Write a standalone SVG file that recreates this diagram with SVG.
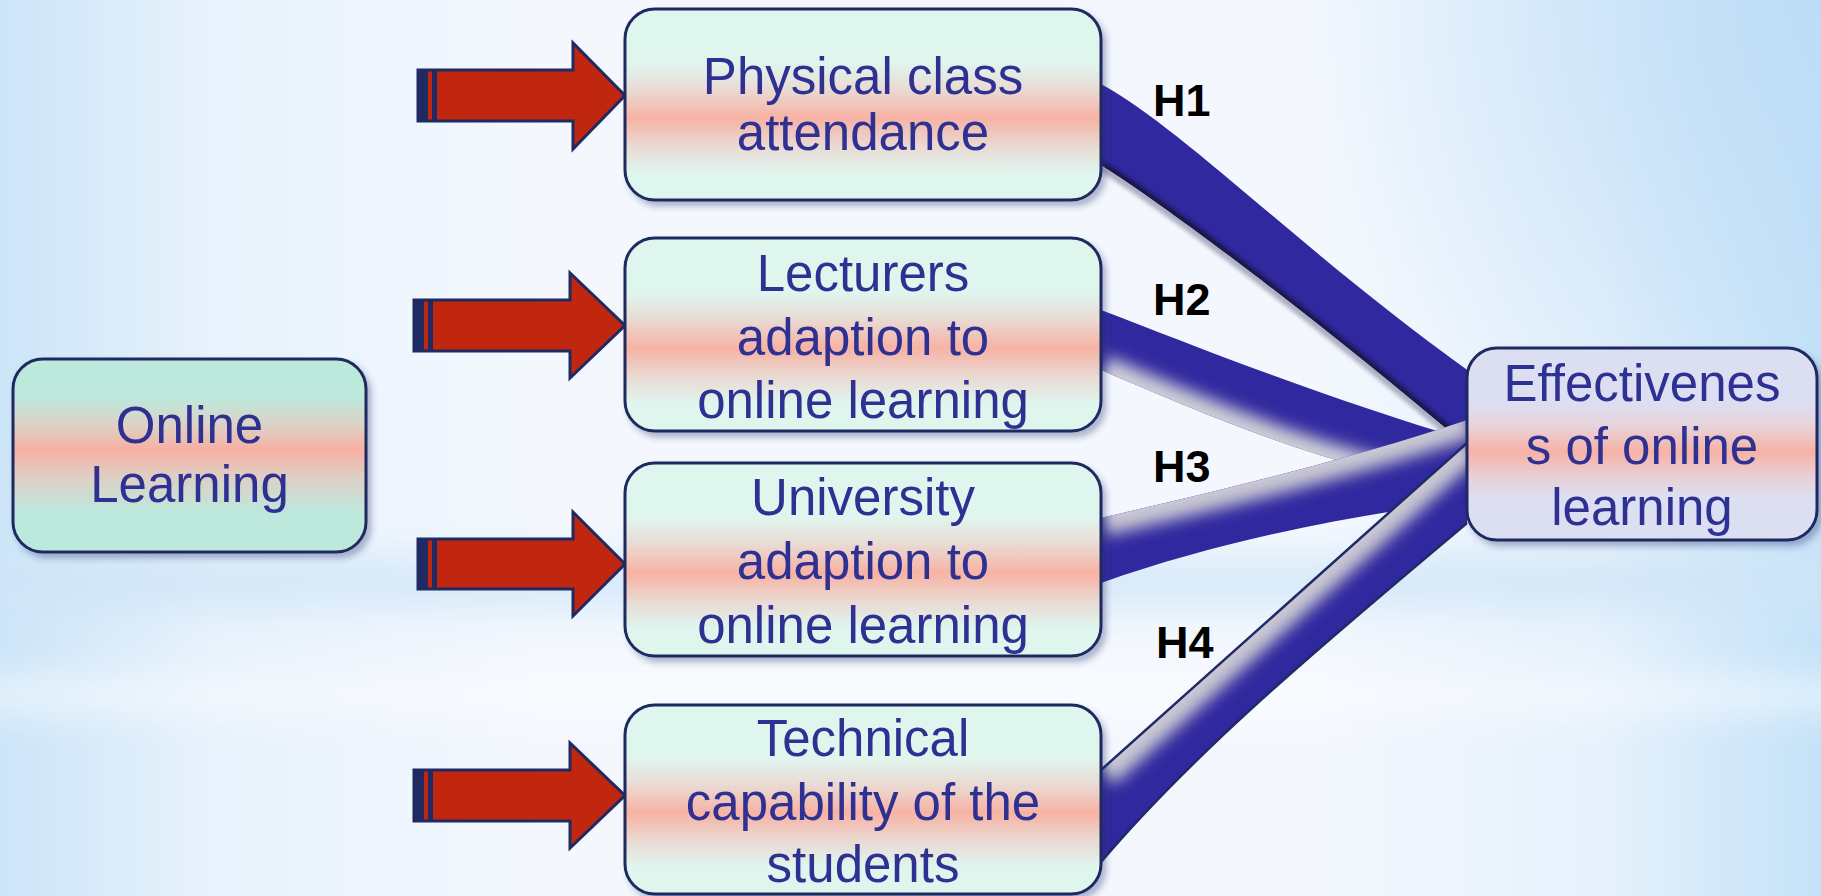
<svg xmlns="http://www.w3.org/2000/svg" width="1821" height="896" viewBox="0 0 1821 896">
<defs>
<style>
.box{stroke:#1f2a60;stroke-width:3;filter:url(#shadow)}
.txt{font-family:"Liberation Sans",Arial,sans-serif;font-size:51px;fill:#2e3192;text-anchor:middle}
.hl{font-family:"Liberation Sans",Arial,sans-serif;font-size:45px;font-weight:bold;fill:#000}
.arrow{fill:#c1260f;stroke:#1f2a62;stroke-width:3;stroke-linejoin:miter}
.bar{fill:#1f2a62}
.rib{fill:#30289e}
</style>
<linearGradient id="bgH" x1="0" y1="0" x2="1" y2="0">
<stop offset="0" stop-color="#cde5f8"/>
<stop offset="0.12" stop-color="#e8f2fc"/>
<stop offset="0.3" stop-color="#f4f8fe"/>
<stop offset="0.72" stop-color="#f4f8fe"/>
<stop offset="0.88" stop-color="#e6f1fc"/>
<stop offset="1" stop-color="#c4e2f8"/>
</linearGradient>
<radialGradient id="bgTR" cx="1821" cy="0" r="520" gradientUnits="userSpaceOnUse">
<stop offset="0" stop-color="#bcdcf6" stop-opacity="0.9"/>
<stop offset="1" stop-color="#bcdcf6" stop-opacity="0"/>
</radialGradient>
<linearGradient id="gMint" x1="0" y1="0" x2="0" y2="1">
<stop offset="0" stop-color="#dff6ef"/>
<stop offset="0.28" stop-color="#dff6ef"/>
<stop offset="0.42" stop-color="#e9dbd4"/>
<stop offset="0.57" stop-color="#f7b2a4"/>
<stop offset="0.72" stop-color="#e9dad3"/>
<stop offset="0.86" stop-color="#dff6ef"/>
<stop offset="1" stop-color="#dff6ef"/>
</linearGradient>
<linearGradient id="gOnline" x1="0" y1="0" x2="0" y2="1">
<stop offset="0" stop-color="#bde9dd"/>
<stop offset="0.2" stop-color="#bde9dd"/>
<stop offset="0.34" stop-color="#dcd2c6"/>
<stop offset="0.47" stop-color="#f7b0a3"/>
<stop offset="0.62" stop-color="#dcd0c6"/>
<stop offset="0.8" stop-color="#bde9dd"/>
<stop offset="1" stop-color="#bde9dd"/>
</linearGradient>
<linearGradient id="gEff" x1="0" y1="0" x2="0" y2="1">
<stop offset="0" stop-color="#dcdff2"/>
<stop offset="0.28" stop-color="#dcdff2"/>
<stop offset="0.41" stop-color="#e8d2d8"/>
<stop offset="0.54" stop-color="#f6b2a5"/>
<stop offset="0.67" stop-color="#e8d0d6"/>
<stop offset="0.78" stop-color="#dcdff2"/>
<stop offset="1" stop-color="#dcdff2"/>
</linearGradient>
<filter id="shadow" x="-10%" y="-10%" width="125%" height="130%">
<feDropShadow dx="4" dy="5" stdDeviation="3" flood-color="#2a3470" flood-opacity="0.35"/>
</filter>
<filter id="blur8" filterUnits="userSpaceOnUse" x="0" y="0" width="1821" height="896">
<feGaussianBlur stdDeviation="8"/>
</filter>
<filter id="blur2" filterUnits="userSpaceOnUse" x="0" y="0" width="1821" height="896">
<feGaussianBlur stdDeviation="2"/>
</filter>
<filter id="blur18" filterUnits="userSpaceOnUse" x="0" y="0" width="1821" height="896">
<feGaussianBlur stdDeviation="18"/>
</filter>
<clipPath id="cH1"><path d="M1101,84 C1185,130 1300,250 1470,372 L1470,436 L1460,440 C1330,330 1180,215 1101,165 Z"/></clipPath>
<clipPath id="cH2"><path d="M1101,310 C1200,348 1330,400 1467,440 L1467,490 C1330,470 1200,412 1101,370 Z"/></clipPath>
<clipPath id="cH3"><path d="M1101,518 C1200,495 1350,460 1467,420 L1467,480 L1400,510 C1300,526 1200,548 1101,583 Z"/></clipPath>
<clipPath id="cH4"><path d="M1101,770 C1180,700 1330,565 1467,443 L1467,523 C1340,630 1200,745 1101,862 Z"/></clipPath>
</defs>

<g id="background">
<rect width="1821" height="896" fill="url(#bgH)"/>
<rect width="1821" height="896" fill="url(#bgTR)"/>
<rect x="-40" y="555" width="1900" height="55" fill="#cfe5f7" opacity="0.75" filter="url(#blur18)"/>
<rect x="-40" y="680" width="1900" height="30" fill="#ffffff" opacity="0.6" filter="url(#blur18)"/>
</g>

<g id="connectors">
<g id="H2-link">
<path class="rib" d="M1101,310 C1200,348 1330,400 1467,440 L1467,490 C1330,470 1200,412 1101,370 Z"/>
<g clip-path="url(#cH2)">
<path d="M1101,372 C1200,414 1330,472 1467,492" fill="none" stroke="#cfcfd8" stroke-width="34" filter="url(#blur8)"/>
</g>
</g>
<g id="H1-link">
<path d="M1101,167 C1180,217 1330,332 1460,442" fill="none" stroke="#8d8da6" stroke-width="8" opacity="0.7" filter="url(#blur2)"/>
<path class="rib" d="M1101,84 C1185,130 1300,250 1470,372 L1470,436 L1460,440 C1330,330 1180,215 1101,165 Z"/>
<g clip-path="url(#cH1)">
<path d="M1101,165 C1180,215 1330,330 1460,440" fill="none" stroke="#15153c" stroke-width="8" filter="url(#blur2)"/>
</g>
</g>
<g id="H3-link">
<path class="rib" d="M1101,518 C1200,495 1350,460 1467,420 L1467,480 L1400,510 C1300,526 1200,548 1101,583 Z"/>
<g clip-path="url(#cH3)">
<path d="M1101,514 C1200,491 1350,456 1467,416" fill="none" stroke="#c9c8d3" stroke-width="44" filter="url(#blur8)"/>
</g>
</g>
<g id="H4-link">
<path class="rib" d="M1101,770 C1180,700 1330,565 1467,443 L1467,523 C1340,630 1200,745 1101,862 Z"/>
<g clip-path="url(#cH4)">
<path d="M1099,768 C1178,698 1328,563 1465,441" fill="none" stroke="#c9c8d3" stroke-width="44" filter="url(#blur8)"/>
</g>
<path d="M1101,770 C1180,700 1330,565 1467,443 M1467,523 C1340,630 1200,745 1101,862" fill="none" stroke="#1f2a66" stroke-width="2.5"/>
</g>
<text class="hl" x="1153" y="116">H1</text>
<text class="hl" x="1153" y="315">H2</text>
<text class="hl" x="1153" y="482">H3</text>
<text class="hl" x="1156" y="658">H4</text>
</g>

<g id="arrows">
<g id="arrow1">
<path class="arrow" d="M418,70 H573 V43 L625,95.5 L573,149 V121 H418 Z"/>
<rect class="bar" x="418" y="70" width="10" height="51"/>
<rect class="bar" x="432" y="70" width="5" height="51"/>
</g>
<g id="arrow2">
<path class="arrow" d="M414,300 H570 V273 L625,325.5 L570,378 V351 H414 Z"/>
<rect class="bar" x="414" y="300" width="10" height="51"/>
<rect class="bar" x="428" y="300" width="5" height="51"/>
</g>
<g id="arrow3">
<path class="arrow" d="M418,539 H573 V512 L625,564 L573,616 V589 H418 Z"/>
<rect class="bar" x="418" y="539" width="10" height="50"/>
<rect class="bar" x="432" y="539" width="5" height="50"/>
</g>
<g id="arrow4">
<path class="arrow" d="M414,770 H570 V743 L625,795.5 L570,848 V821 H414 Z"/>
<rect class="bar" x="414" y="770" width="10" height="51"/>
<rect class="bar" x="428" y="770" width="5" height="51"/>
</g>
</g>

<g id="online-learning">
<rect class="box" x="13" y="359" width="353" height="193" rx="30" fill="url(#gOnline)"/>
<text class="txt" x="189.5" y="443">Online</text>
<text class="txt" x="189.5" y="502">Learning</text>
</g>

<g id="physical">
<rect class="box" x="625" y="9" width="476" height="191" rx="30" fill="url(#gMint)"/>
<text class="txt" x="863" y="94">Physical class</text>
<text class="txt" x="863" y="150">attendance</text>
</g>

<g id="lecturers">
<rect class="box" x="625" y="238" width="476" height="193" rx="30" fill="url(#gMint)"/>
<text class="txt" x="863" y="291">Lecturers</text>
<text class="txt" x="863" y="355">adaption to</text>
<text class="txt" x="863" y="418">online learning</text>
</g>

<g id="university">
<rect class="box" x="625" y="463" width="476" height="193" rx="30" fill="url(#gMint)"/>
<text class="txt" x="863" y="515">University</text>
<text class="txt" x="863" y="579">adaption to</text>
<text class="txt" x="863" y="643">online learning</text>
</g>

<g id="technical">
<rect class="box" x="625" y="705" width="476" height="189" rx="30" fill="url(#gMint)"/>
<text class="txt" x="863" y="756">Technical</text>
<text class="txt" x="863" y="820">capability of the</text>
<text class="txt" x="863" y="882">students</text>
</g>

<g id="effectiveness">
<rect class="box" x="1467" y="348" width="350" height="192" rx="30" fill="url(#gEff)"/>
<text class="txt" x="1642" y="401">Effectivenes</text>
<text class="txt" x="1642" y="464">s of online</text>
<text class="txt" x="1642" y="525">learning</text>
</g>
</svg>
